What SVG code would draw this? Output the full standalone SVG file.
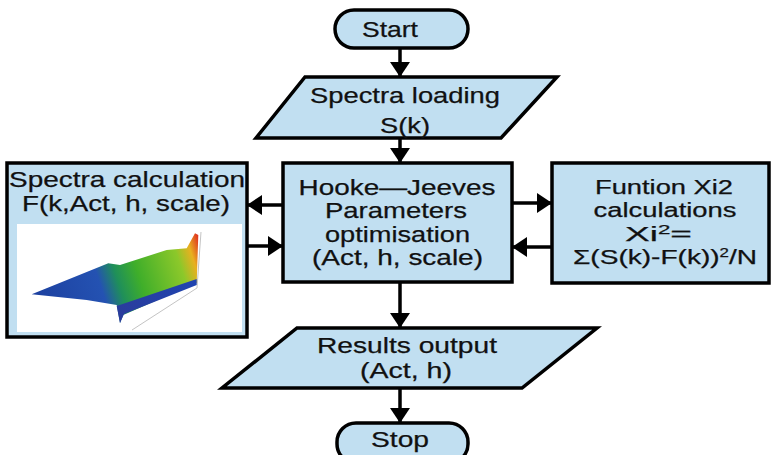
<svg xmlns="http://www.w3.org/2000/svg" width="771" height="455" viewBox="0 0 771 455">
<defs>
<style>
.shape{fill:#c1dff1;stroke:#000;stroke-width:3.5;stroke-linejoin:miter}
.t{font-family:"Liberation Sans",Arial,sans-serif;font-size:22px;fill:#111;stroke:#111;stroke-width:0.25;text-anchor:middle}
.s{font-size:20px}
.c{stroke:#000;stroke-width:3.5;fill:none}
</style>
<marker id="ah" markerUnits="userSpaceOnUse" markerWidth="20" markerHeight="22" refX="15" refY="10" orient="auto">
<path d="M0,0 L15,10 L0,20 Z" fill="#000"/>
</marker>
<linearGradient id="surf" x1="30" y1="300" x2="200" y2="245" gradientUnits="userSpaceOnUse">
<stop offset="0" stop-color="#1c3f9e"/>
<stop offset="0.4" stop-color="#2452b2"/>
<stop offset="0.5" stop-color="#1f8f5a"/>
<stop offset="0.62" stop-color="#3fae2a"/>
<stop offset="0.86" stop-color="#8cc82a"/>
<stop offset="0.94" stop-color="#e8b020"/>
<stop offset="1" stop-color="#e03a20"/>
</linearGradient>
<linearGradient id="front" x1="117" y1="310" x2="197" y2="282" gradientUnits="userSpaceOnUse">
<stop offset="0" stop-color="#2a3c9c"/>
<stop offset="1" stop-color="#1f44b0"/>
</linearGradient>
</defs>

<g id="connectors">
<line class="c" x1="400" y1="48" x2="400" y2="77" marker-end="url(#ah)"/>
<line class="c" x1="400" y1="138" x2="400" y2="163" marker-end="url(#ah)"/>
<line class="c" x1="400" y1="282" x2="400" y2="328" marker-end="url(#ah)"/>
<line class="c" x1="400" y1="388" x2="400" y2="423" marker-end="url(#ah)"/>
<line class="c" x1="283" y1="205" x2="247" y2="205" marker-end="url(#ah)"/>
<line class="c" x1="247" y1="246" x2="283" y2="246" marker-end="url(#ah)"/>
<line class="c" x1="512" y1="203" x2="552" y2="203" marker-end="url(#ah)"/>
<line class="c" x1="552" y1="247" x2="512" y2="247" marker-end="url(#ah)"/>
</g>

<g id="start">
<rect class="shape" x="335" y="10" width="133" height="38" rx="19" ry="19"/>
<text class="t" x="390" y="37" textLength="56" lengthAdjust="spacingAndGlyphs">Start</text>
</g>

<g id="spectra-loading">
<polygon class="shape" points="305,77 557,77 501,138 256,138"/>
<text class="t" x="405" y="103" textLength="190" lengthAdjust="spacingAndGlyphs">Spectra loading</text>
<text class="t" x="405" y="133" textLength="50" lengthAdjust="spacingAndGlyphs">S(k)</text>
</g>

<g id="hooke-jeeves">
<rect class="shape" x="283" y="163" width="229" height="119"/>
<text class="t" x="397" y="195" textLength="197" lengthAdjust="spacingAndGlyphs">Hooke—Jeeves</text>
<text class="t" x="396" y="218" textLength="142" lengthAdjust="spacingAndGlyphs">Parameters</text>
<text class="t" x="397.5" y="242" textLength="145" lengthAdjust="spacingAndGlyphs">optimisation</text>
<text class="t" x="397.5" y="265" textLength="171" lengthAdjust="spacingAndGlyphs">(Act, h, scale)</text>
</g>

<g id="spectra-calculation">
<rect class="shape" x="7" y="163" width="240" height="174"/>
<rect x="17" y="224" width="225" height="108" fill="#ffffff"/>
<polyline points="201,232 197,288 132,330" fill="none" stroke="#c4c4c4" stroke-width="1"/>
<polygon points="31.7,294.3 108.3,263.3 120,265 166.7,250 186.7,248.3 195,233.3 198.3,235 196.7,283 191.7,285 123.3,315 120,323.3 116.7,305 86.7,300" fill="url(#surf)"/>
<polygon points="116.7,306 196.7,279 196.7,285 124,314 120,323" fill="url(#front)"/>
<text class="t" x="127" y="187" textLength="236" lengthAdjust="spacingAndGlyphs">Spectra calculation</text>
<text class="t" x="126" y="211" textLength="208" lengthAdjust="spacingAndGlyphs">F(k,Act, h, scale)</text>
</g>

<g id="xi2-function">
<rect class="shape" x="552" y="163" width="217" height="120"/>
<text class="t s" x="664" y="194" textLength="138" lengthAdjust="spacingAndGlyphs">Funtion Xi2</text>
<text class="t s" x="665" y="217" textLength="143" lengthAdjust="spacingAndGlyphs">calculations</text>
<text class="t s" x="658.5" y="241" textLength="67" lengthAdjust="spacingAndGlyphs">Xi<tspan font-size="12" dy="-7">2</tspan><tspan dy="7">=</tspan></text>
<text class="t s" x="665" y="264" textLength="184" lengthAdjust="spacingAndGlyphs">Σ(S(k)-F(k))<tspan font-size="12" dy="-7">2</tspan><tspan dy="7">/N</tspan></text>
</g>

<g id="results-output">
<polygon class="shape" points="297,328 597,328 522,388 222,388"/>
<text class="t" x="407" y="353" textLength="180" lengthAdjust="spacingAndGlyphs">Results output</text>
<text class="t" x="406" y="378" textLength="92" lengthAdjust="spacingAndGlyphs">(Act, h)</text>
</g>

<g id="stop">
<rect class="shape" x="337" y="423" width="131" height="40" rx="19" ry="19"/>
<text class="t" x="400" y="447" textLength="58" lengthAdjust="spacingAndGlyphs">Stop</text>
</g>
</svg>
